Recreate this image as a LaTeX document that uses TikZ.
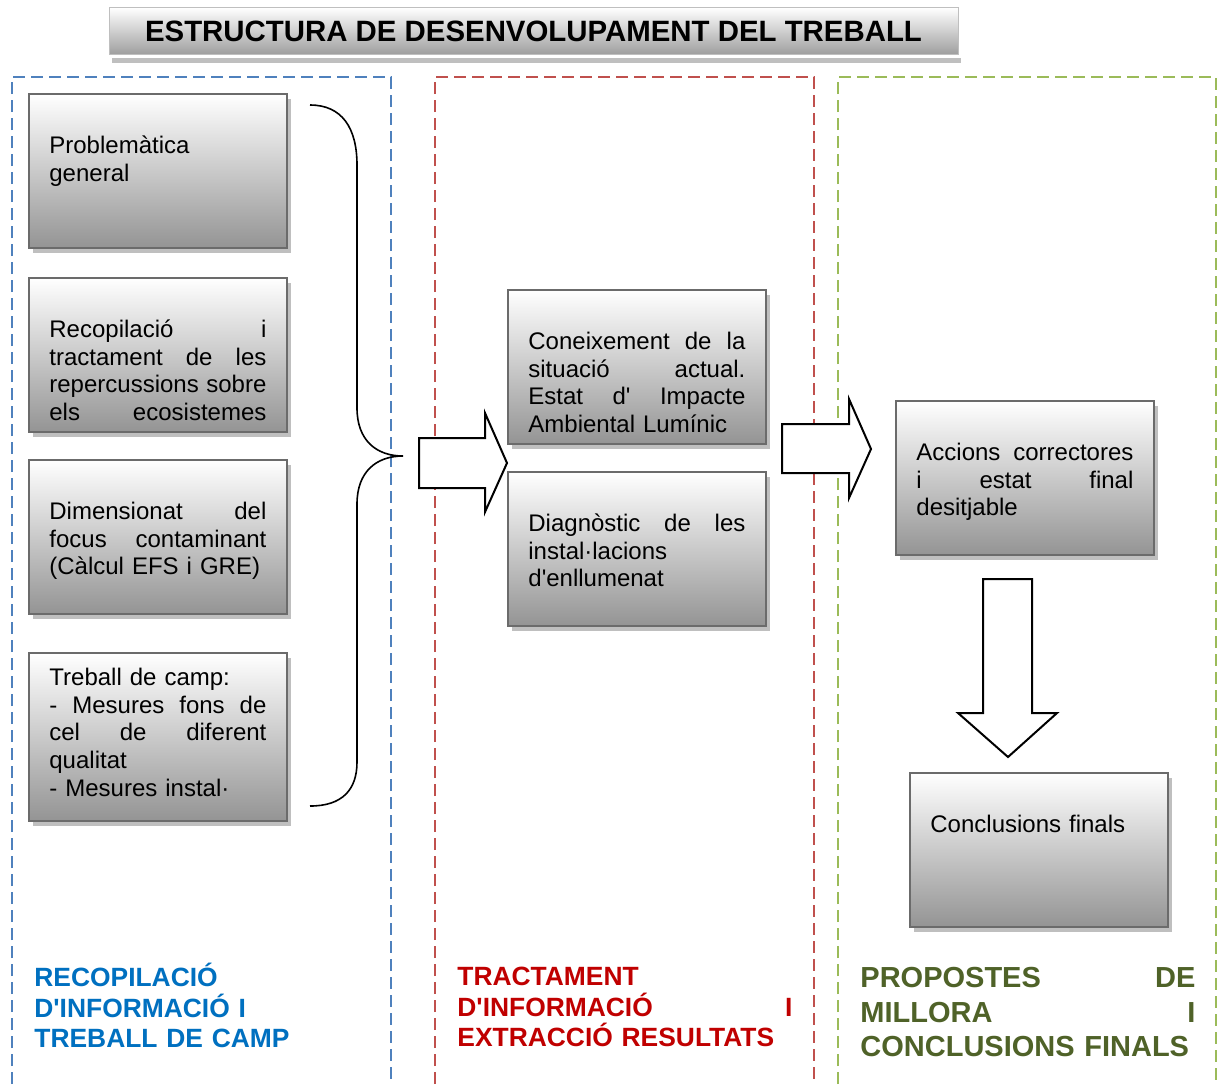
\documentclass[tikz,border=0pt]{standalone}
\usepackage{fontspec}
\setmainfont{Liberation Sans}[Ligatures=TeXOff]
\usetikzlibrary{positioning,shadows}
\definecolor{frame-blue}{HTML}{4F81BD}
\definecolor{frame-red}{HTML}{C0504D}
\definecolor{frame-green}{HTML}{9BBB59}
\definecolor{head-blue}{HTML}{0070C0}
\definecolor{head-red}{HTML}{C00000}
\definecolor{head-green}{HTML}{4F6228}
\colorlet{box-edge}{black!58}
\colorlet{box-shadow}{black!25}
% one justified line, words split by \hfill
\newcommand{\spreadline}[2][108.5pt]{\leavevmode\hbox to #1{#2}}
\newcommand{\tightlines}{\lineskiplimit=-50pt\relax}
\tikzset{
  gbox/.style={rectangle, draw=box-edge, line width=1pt, top color=white, bottom color=black!42,
    minimum width=129pt, minimum height=77pt, anchor=north west,
    drop shadow={shadow xshift=2pt, shadow yshift=-2.5pt, fill=box-shadow, opacity=1}},
  btext/.style={inner sep=0pt, text width=108.5pt, align=left,
    font=\fontsize{12}{13.85}\selectfont\tightlines},
  titlebox/.style={rectangle, draw=black!25, top color=white, bottom color=black!38,
    minimum width=424.5pt, minimum height=23.5pt, font=\fontsize{14.7}{17}\selectfont\bfseries},
  coltitle/.style={anchor=north west, inner sep=0pt, text width=167.5pt, align=left,
    font=\fontsize{13.2}{15.25}\selectfont\bfseries\tightlines},
  colframe/.style={line width=0.9pt, dash pattern=on 6pt off 3pt},
  blockarrow/.style={draw=black, line width=1pt, fill=white, line join=miter},
  curly/.style={draw=black, line width=0.8pt},
}
\begin{document}
\begin{tikzpicture}[x=0.5pt, y=-0.5pt]
\fill[white] (0,0) rectangle (1224,1084);
\useasboundingbox (0,0) rectangle (1224,1084);

\fill[box-shadow] (112,58) rectangle (961,63);
\node[titlebox] (title) at (533.5,31) {ESTRUCTURA DE DESENVOLUPAMENT DEL TREBALL};

\foreach \xa/\xb/\col in {12/391/frame-blue, 435/814/frame-red, 838/1216/frame-green}
  \draw[colframe, \col] (\xa,1084) |- (\xb,77) -- (\xb,1084);

\begin{scope}
\node[gbox] (l1) at (28,93) {};
\node[gbox] (l2) at (28,277) {};
\node[gbox] (l3) at (28,459) {};
\node[gbox, minimum height=84pt] (l4) at (28,652) {};

\node[btext, below right=20.3pt and 10.5pt of l1.north west] (l1t) {\strut Problemàtica\\general};
\node[btext, below right=20.3pt and 10.5pt of l2.north west] (l2t) {\strut\spreadline{Recopilació\hfill i}\\
  \spreadline{tractament\hfill de\hfill les}\\\spreadline{repercussions\hfill sobre}\\
  \spreadline{els\hfill ecosistemes}};
\node[btext, below right=20.3pt and 10.5pt of l3.north west] (l3t) {\strut\spreadline{Dimensionat\hfill del}\\
  \spreadline{focus\hfill contaminant}\\(Càlcul EFS i GRE)};
\node[btext, below right=6.8pt and 10.5pt of l4.north west] (l4t) {\strut Treball de camp:\\
  \spreadline{-\hfill Mesures\hfill fons\hfill de}\\\spreadline{cel\hfill de\hfill diferent}\\
  qualitat\\- Mesures instal·};

\draw[curly] (310,105) .. controls (342,105) and (357,128) .. (357,165) -- (357,408)
  .. controls (357,440) and (376,456) .. (403,456)
  .. controls (376,456) and (357,472) .. (357,504) -- (357,762)
  .. controls (357,790) and (342,806) .. (310,806);

\node[coltitle, head-blue] (h1) at (34,963) {\strut RECOPILACIÓ\\D'INFORMACIÓ I\\TREBALL DE CAMP};
\end{scope}%left column

\begin{scope}
\node[gbox] (m1) at (507,289) {};
\node[gbox] (m2) at (507,471) {};

\node[btext, below right=20.3pt and 10.5pt of m1.north west] (m1t) {\strut\spreadline{Coneixement\hfill de\hfill la}\\
  \spreadline{situació\hfill actual.}\\\spreadline{Estat\hfill d'\hfill Impacte}\\Ambiental Lumínic};
\node[btext, below right=20.3pt and 10.5pt of m2.north west] (m2t) {\strut\spreadline{Diagnòstic\hfill de\hfill les}\\
  instal·lacions\\d'enllumenat};

\draw[blockarrow] (419,438) -- (485,438) -- (485,413) -- (507,463) -- (485,512) -- (485,488) -- (419,488) -- cycle;

\node[coltitle, head-red] (h2) at (457,964) {\strut TRACTAMENT\\
  \spreadline[167.5pt]{D'INFORMACIÓ\hfill I}\\EXTRACCIÓ RESULTATS};
\end{scope}%middle column

\begin{scope}
\node[gbox] (r1) at (895,400) {};
\node[gbox] (r2) at (909,772) {};

\node[btext, below right=20.3pt and 10.5pt of r1.north west] (r1t) {\strut\spreadline{Accions\hfill correctores}\\
  \spreadline{i\hfill estat\hfill final}\\desitjable};
\node[btext, below right=20.3pt and 10.5pt of r2.north west] (r2t) {\strut Conclusions finals};

\draw[blockarrow] (782,424) -- (849,424) -- (849,399) -- (871,449) -- (849,498) -- (849,473) -- (782,473) -- cycle;
\draw[blockarrow] (983,579) -- (1032,579) -- (1032,713) -- (1057,713) -- (1008,757) -- (958,713) -- (983,713) -- cycle;

\node[coltitle, head-green, font=\fontsize{14.5}{17.25}\selectfont\bfseries\tightlines] (h3) at (860,963)
  {\strut\spreadline[167.5pt]{PROPOSTES\hfill DE}\\\spreadline[167.5pt]{MILLORA\hfill I}\\CONCLUSIONS FINALS};
\end{scope}%right column

\end{tikzpicture}
\end{document}
